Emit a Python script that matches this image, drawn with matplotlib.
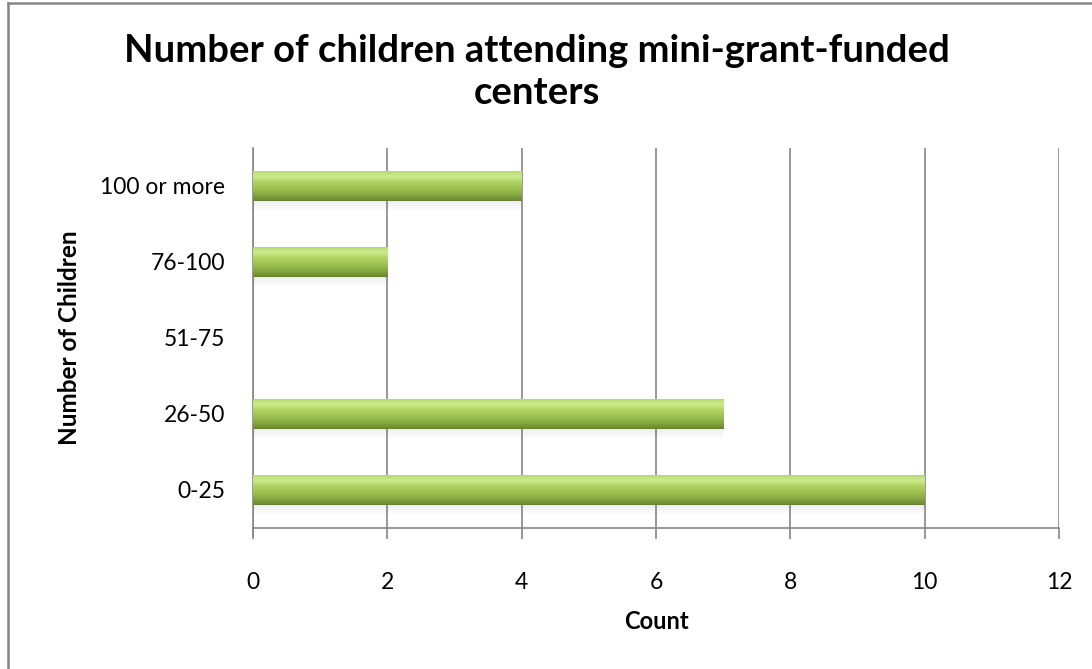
import numpy as np
import matplotlib.pyplot as plt
from matplotlib.colors import LinearSegmentedColormap
from matplotlib.lines import Line2D

categories = ["0-25", "26-50", "51-75", "76-100", "100 or more"]
counts = [10, 7, 0, 2, 4]
x_ticks = [0, 2, 4, 6, 8, 10, 12]

plt.rcParams['font.family'] = ['Lato', 'DejaVu Sans']

fig = plt.figure(figsize=(10.92, 6.69), dpi=100)
ax = fig.add_axes([0.2317, 0.2108, 0.7381, 0.568])

bar_h = 0.4
y = np.arange(len(categories))
bars = ax.barh(y, counts, height=bar_h, color='#9BBB59', edgecolor='none', zorder=3)

# bevelled green fill: vertical gradient clipped to each bar
green = LinearSegmentedColormap.from_list(
    'bevel', ['#67822F', '#86A840', '#9DC052', '#AFD262', '#CDEC8C', '#B2D46A'])
grad = np.linspace(0, 1, 256).reshape(-1, 1)
for b in bars:
    w = b.get_width()
    if w <= 0:
        continue
    x0, y0 = b.get_x(), b.get_y()
    h = b.get_height()
    # soft shadow under the bar
    for k, a in enumerate([0.10, 0.07, 0.04, 0.02]):
        ax.add_patch(plt.Rectangle((x0, y0 - 0.03 * (k + 1)), w, 0.03,
                                   color='#606060', alpha=a, lw=0, zorder=2))
    im = ax.imshow(grad, extent=[x0, x0 + w, y0, y0 + h], origin='lower',
                   cmap=green, aspect='auto', zorder=4)
    im.set_clip_path(b)

ax.set_xlim(0, 12)
ax.set_ylim(-0.5, len(categories) - 0.5)
ax.set_xticks(x_ticks)
ax.set_xticklabels([str(t) for t in x_ticks])
ax.set_yticks(y)
ax.set_yticklabels(categories)
ax.grid(axis='x', color='#868686', lw=1.2, zorder=1)
ax.set_axisbelow(True)

for s in ['top', 'right']:
    ax.spines[s].set_visible(False)
for s in ['left', 'bottom']:
    ax.spines[s].set_color('#868686')
    ax.spines[s].set_linewidth(1.2)

ax.tick_params(axis='x', length=8, width=1.2, color='#868686', labelsize=16.5, pad=24)
ax.tick_params(axis='y', length=0, labelsize=16.5, pad=20)
# left axis runs a little below the x axis, like the tick marks
ax.plot([0, 0], [-0.5, -0.61], color='#868686', lw=1.2, clip_on=False, zorder=5)

ax.set_xlabel('Count', fontsize=17, fontweight='bold', labelpad=12)
ax.set_ylabel('Number of Children', fontsize=17.5, fontweight='bold', labelpad=14)

fig.text(0.4915, 0.892, 'Number of children attending mini-grant-funded\ncenters',
         ha='center', va='center', fontsize=27.5, fontweight='bold', linespacing=1.3)

# chart frame (left and top edges)
fig.add_artist(Line2D([0.0073, 0.0073], [0, 0.9955], color='#868686', lw=1.8,
                      transform=fig.transFigure))
fig.add_artist(Line2D([0.0073, 1], [0.9955, 0.9955], color='#868686', lw=1.8,
                      transform=fig.transFigure))

fig.savefig('out.png', dpi=100)
